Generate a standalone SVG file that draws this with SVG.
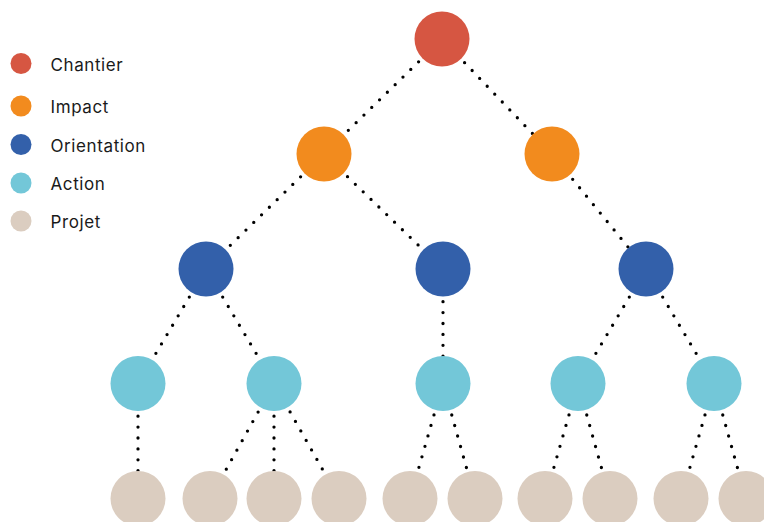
<svg xmlns="http://www.w3.org/2000/svg" width="764" height="522" viewBox="0 0 764 522">
<style>
.edge{stroke:#000;stroke-width:3.3;stroke-linecap:round;stroke-dasharray:0 10.9;fill:none}
.lbl{font-family:Inter,"Noto Sans","Liberation Sans",sans-serif;font-size:17px;letter-spacing:0.6px;fill:#1a1a1a}
.chantier{fill:#D65642}
.impact{fill:#F28B1E}
.orientation{fill:#3360AA}
.action{fill:#73C7D8}
.projet{fill:#DBCDC0}
</style>
<rect width="764" height="522" fill="#fff"/>
<g id="legend">
<g id="legend-chantier"><circle class="chantier" cx="21" cy="63.5" r="10.5"/><text class="lbl" x="50.5" y="70.5">Chantier</text></g>
<g id="legend-impact"><circle class="impact" cx="21" cy="106" r="10.5"/><text class="lbl" x="50.5" y="113">Impact</text></g>
<g id="legend-orientation"><circle class="orientation" cx="21" cy="144.5" r="10.5"/><text class="lbl" x="50.5" y="151.5">Orientation</text></g>
<g id="legend-action"><circle class="action" cx="21" cy="183" r="10.5"/><text class="lbl" x="50.5" y="190">Action</text></g>
<g id="legend-projet"><circle class="projet" cx="21" cy="221" r="10.5"/><text class="lbl" x="50.5" y="228">Projet</text></g>
</g>
<g id="connectors">
<line class="edge" x1="442" y1="39" x2="324" y2="154"/>
<line class="edge" x1="442" y1="39" x2="552" y2="154"/>
<line class="edge" x1="324" y1="154" x2="206" y2="269"/>
<line class="edge" x1="324" y1="154" x2="443" y2="269"/>
<line class="edge" x1="552" y1="154" x2="646" y2="269"/>
<line class="edge" x1="206" y1="269" x2="138" y2="383.5"/>
<line class="edge" x1="206" y1="269" x2="274" y2="383.5"/>
<line class="edge" x1="443" y1="269" x2="443" y2="383.5"/>
<line class="edge" x1="646" y1="269" x2="578" y2="383.5"/>
<line class="edge" x1="646" y1="269" x2="714" y2="383.5"/>
<line class="edge" x1="138" y1="383.5" x2="138" y2="498.5"/>
<line class="edge" x1="274" y1="383.5" x2="210" y2="498.5"/>
<line class="edge" x1="274" y1="383.5" x2="274" y2="498.5"/>
<line class="edge" x1="274" y1="383.5" x2="339" y2="498.5"/>
<line class="edge" x1="443" y1="383.5" x2="410" y2="498.5"/>
<line class="edge" x1="443" y1="383.5" x2="475" y2="498.5"/>
<line class="edge" x1="578" y1="383.5" x2="545" y2="498.5"/>
<line class="edge" x1="578" y1="383.5" x2="610" y2="498.5"/>
<line class="edge" x1="714" y1="383.5" x2="681" y2="498.5"/>
<line class="edge" x1="714" y1="383.5" x2="746" y2="498.5"/>
</g>
<g id="n-chantier"><circle class="chantier" cx="442" cy="39" r="27.5"/></g>
<g id="n-impact-1"><circle class="impact" cx="324" cy="154" r="27.5"/></g>
<g id="n-impact-2"><circle class="impact" cx="552" cy="154" r="27.5"/></g>
<g id="n-orientation-1"><circle class="orientation" cx="206" cy="269" r="27.5"/></g>
<g id="n-orientation-2"><circle class="orientation" cx="443" cy="269" r="27.5"/></g>
<g id="n-orientation-3"><circle class="orientation" cx="646" cy="269" r="27.5"/></g>
<g id="n-action-1"><circle class="action" cx="138" cy="383.5" r="27.5"/></g>
<g id="n-action-2"><circle class="action" cx="274" cy="383.5" r="27.5"/></g>
<g id="n-action-3"><circle class="action" cx="443" cy="383.5" r="27.5"/></g>
<g id="n-action-4"><circle class="action" cx="578" cy="383.5" r="27.5"/></g>
<g id="n-action-5"><circle class="action" cx="714" cy="383.5" r="27.5"/></g>
<g id="n-projet-1"><circle class="projet" cx="138" cy="498.5" r="27.5"/></g>
<g id="n-projet-2"><circle class="projet" cx="210" cy="498.5" r="27.5"/></g>
<g id="n-projet-3"><circle class="projet" cx="274" cy="498.5" r="27.5"/></g>
<g id="n-projet-4"><circle class="projet" cx="339" cy="498.5" r="27.5"/></g>
<g id="n-projet-5"><circle class="projet" cx="410" cy="498.5" r="27.5"/></g>
<g id="n-projet-6"><circle class="projet" cx="475" cy="498.5" r="27.5"/></g>
<g id="n-projet-7"><circle class="projet" cx="545" cy="498.5" r="27.5"/></g>
<g id="n-projet-8"><circle class="projet" cx="610" cy="498.5" r="27.5"/></g>
<g id="n-projet-9"><circle class="projet" cx="681" cy="498.5" r="27.5"/></g>
<g id="n-projet-10"><circle class="projet" cx="746" cy="498.5" r="27.5"/></g>
</svg>
